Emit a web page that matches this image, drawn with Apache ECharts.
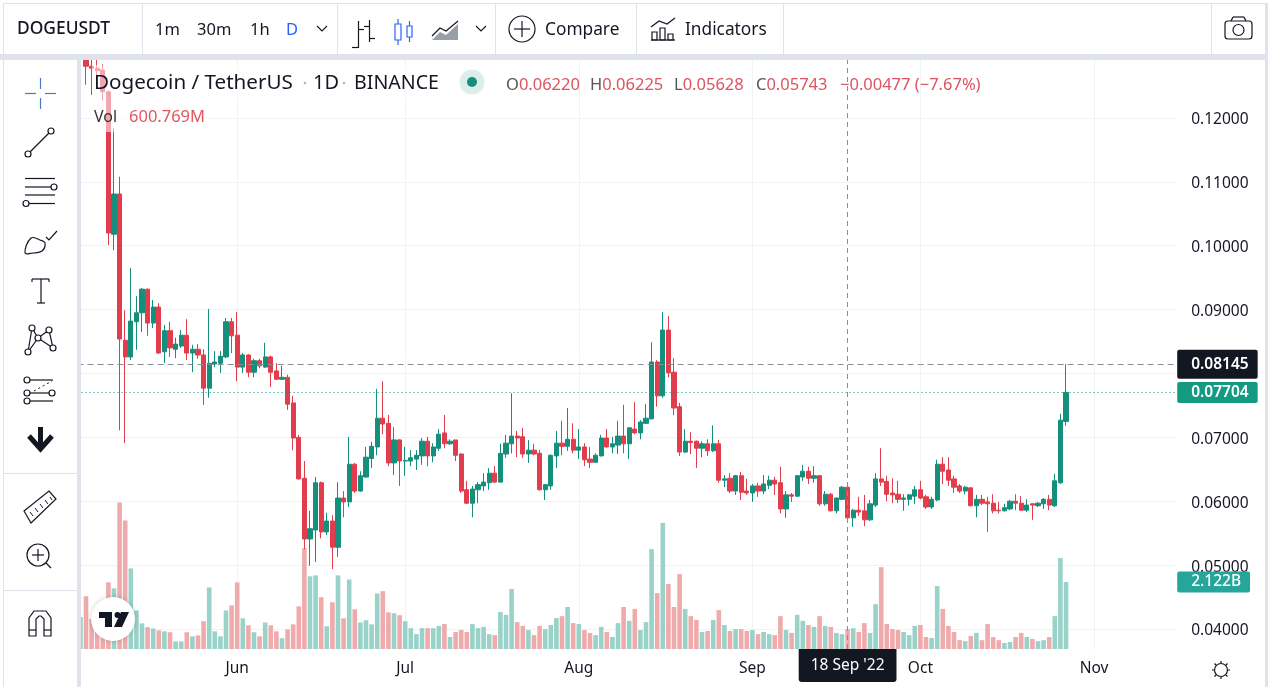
<!DOCTYPE html>
<html>
<head>
<meta charset="utf-8">
<title>DOGEUSDT</title>
<style>
html,body{margin:0;padding:0;background:#fff;overflow:hidden;}
#main{width:1275px;height:700px;}
</style>
<script src="https://cdn.jsdelivr.net/npm/echarts@6/dist/echarts.min.js"></script>
</head>
<body>
<div id="main"></div>
<script>
// daily candles from 5 May 2022
var opens = [.1300,.1281,.1278,.1275,.1241,.1018,.1081,.0852,.0826,.0881,
.0895,.0932,.0879,.0904,.0834,.0867,.0838,.0843,.0860,.0832,
.0838,.0829,.0777,.0815,.0816,.0826,.0881,.0860,.0810,.0829,
.0802,.0820,.0810,.0826,.0804,.0791,.0794,.0754,.0700,.0636,
.0541,.0555,.0629,.0552,.0569,.0528,.0605,.0599,.0658,.0616,
.0638,.0667,.0685,.0730,.0722,.0660,.0696,.0663,.0663,.0666,
.0671,.0694,.0671,.0683,.0707,.0690,.0696,.0674,.0618,.0597,
.0618,.0624,.0629,.0644,.0630,.0674,.0690,.0702,.0701,.0674,
.0680,.0675,.0618,.0624,.0671,.0691,.0686,.0697,.0680,.0685,
.0666,.0661,.0671,.0699,.0685,.0688,.0702,.0690,.0713,.0707,
.0722,.0729,.0818,.0765,.0868,.0802,.0748,.0677,.0694,.0694,
.0683,.0690,.0679,.0690,.0633,.0636,.0616,.0640,.0616,.0613,
.0624,.0616,.0625,.0633,.0629,.0588,.0610,.0608,.0638,.0647,
.0636,.0640,.0596,.0611,.0585,.0603,.0622,.0574,.0586,.0585,
.0571,.0594,.0635,.0631,.0613,.0611,.0603,.0603,.0608,.0618,
.0607,.0591,.0602,.0658,.0649,.0635,.0624,.0616,.0621,.0593,
.0603,.0599,.0597,.0586,.0585,.0588,.0600,.0597,.0586,.0596,
.0593,.0596,.0603,.0593,.0629,.0725];
var closes = [.1281,.1278,.1274,.1241,.1020,.1081,.0854,.0826,.0882,.0895,
.0932,.0879,.0904,.0832,.0867,.0840,.0846,.0860,.0832,.0838,
.0829,.0777,.0816,.0818,.0827,.0881,.0859,.0810,.0829,.0802,
.0820,.0812,.0826,.0802,.0791,.0794,.0752,.0699,.0635,.0541,
.0557,.0629,.0552,.0569,.0528,.0605,.0599,.0658,.0616,.0640,
.0669,.0686,.0730,.0721,.0660,.0696,.0663,.0664,.0668,.0672,
.0694,.0671,.0685,.0705,.0690,.0694,.0672,.0616,.0597,.0619,
.0626,.0630,.0644,.0630,.0675,.0691,.0702,.0699,.0674,.0680,
.0674,.0618,.0626,.0672,.0691,.0686,.0697,.0680,.0685,.0665,
.0661,.0672,.0699,.0685,.0690,.0702,.0690,.0715,.0707,.0724,
.0730,.0818,.0765,.0868,.0801,.0746,.0677,.0694,.0692,.0683,
.0690,.0679,.0690,.0633,.0635,.0616,.0640,.0614,.0613,.0624,
.0616,.0627,.0633,.0627,.0588,.0610,.0608,.0640,.0647,.0636,
.0640,.0596,.0611,.0585,.0605,.0622,.0574,.0586,.0583,.0571,
.0596,.0635,.0630,.0611,.0610,.0603,.0605,.0610,.0618,.0605,
.0591,.0603,.0658,.0647,.0633,.0622,.0616,.0622,.0593,.0603,
.0597,.0596,.0585,.0585,.0590,.0600,.0597,.0586,.0594,.0594,
.0597,.0603,.0594,.0632,.0727,.07704];
var highs = [.1310,.1300,.1295,.1284,.1243,.1184,.1108,.0899,.0965,.0921,
.0934,.0933,.0915,.0910,.0876,.0881,.0856,.0868,.0885,.0845,
.0846,.0838,.0901,.0835,.0835,.0887,.0887,.0896,.0832,.0830,
.0823,.0823,.0848,.0828,.0816,.0812,.0798,.0765,.0704,.0663,
.0585,.0638,.0631,.0582,.0578,.0630,.0616,.0701,.0660,.0647,
.0685,.0693,.0776,.0788,.0735,.0716,.0697,.0685,.0680,.0680,
.0699,.0701,.0691,.0713,.0735,.0697,.0696,.0675,.0632,.0624,
.0630,.0644,.0652,.0655,.0690,.0704,.0769,.0710,.0715,.0696,
.0690,.0680,.0627,.0673,.0710,.0726,.0746,.0722,.0713,.0691,
.0685,.0675,.0704,.0713,.0701,.0726,.0751,.0716,.0755,.0727,
.0752,.0849,.0821,.0896,.0890,.0824,.0754,.0713,.0708,.0695,
.0694,.0697,.0719,.0696,.0641,.0644,.0641,.0646,.0635,.0627,
.0629,.0641,.0640,.0638,.0654,.0616,.0613,.0641,.0657,.0654,
.0655,.0641,.0616,.0613,.0606,.0624,.0624,.0588,.0607,.0610,
.0602,.0644,.0683,.0640,.0636,.0632,.0611,.0611,.0624,.0632,
.0610,.0607,.0665,.0669,.0669,.0640,.0627,.0624,.0622,.0610,
.0610,.0607,.0611,.0599,.0596,.0602,.0611,.0608,.0603,.0597,
.0599,.0605,.0610,.0643,.0737,.08145];
var lows = [.1252,.1236,.1259,.1227,.1001,.0993,.0711,.0691,.0821,.0837,
.0865,.0859,.0871,.0831,.0816,.0826,.0824,.0840,.0821,.0802,
.0823,.0751,.0762,.0810,.0801,.0824,.0832,.0788,.0801,.0794,
.0794,.0808,.0809,.0779,.0790,.0790,.0743,.0680,.0634,.0525,
.0499,.0505,.0542,.0547,.0494,.0513,.0575,.0591,.0613,.0615,
.0637,.0652,.0672,.0705,.0655,.0641,.0624,.0640,.0655,.0649,
.0657,.0655,.0661,.0679,.0683,.0688,.0663,.0613,.0596,.0575,
.0597,.0616,.0618,.0629,.0629,.0668,.0675,.0669,.0668,.0660,
.0672,.0617,.0602,.0618,.0652,.0672,.0679,.0675,.0666,.0655,
.0652,.0660,.0670,.0684,.0675,.0674,.0675,.0666,.0705,.0697,
.0721,.0728,.0748,.0762,.0794,.0735,.0671,.0676,.0674,.0652,
.0669,.0671,.0677,.0629,.0622,.0613,.0610,.0602,.0610,.0599,
.0607,.0611,.0619,.0610,.0581,.0574,.0599,.0607,.0632,.0627,
.0629,.0593,.0593,.0584,.0581,.0602,.0568,.0560,.0577,.0561,
.0569,.0591,.0624,.0600,.0597,.0597,.0585,.0593,.0596,.0603,
.0588,.0588,.0600,.0627,.0624,.0613,.0613,.0611,.0592,.0575,
.0594,.0552,.0581,.0581,.0584,.0586,.0586,.0585,.0583,.0571,
.0591,.0588,.0586,.0591,.0627,.0718];
// volume in billions
var volumes = [1.67,.95,.96,1.33,2.11,1.92,4.64,4.07,2.55,1.22,
.81,.69,.65,.59,.56,.53,.24,.24,.53,.40,
.43,.88,1.95,.56,.40,1.22,1.38,2.11,.97,.75,
.53,.40,.84,.75,.56,.34,.62,.78,1.35,3.19,
2.30,2.33,1.64,.72,1.48,2.33,.97,2.20,1.26,.84,
.91,.78,1.76,1.83,1.16,1.13,1.07,.88,.66,.47,
.66,.66,.66,.73,.79,.38,.54,.60,.54,.79,
.66,.70,.47,.44,1.17,1.08,1.90,.85,.73,.60,
.44,.73,.63,.76,.98,1.04,1.33,.82,.79,.60,
.51,.44,.70,.54,.38,.82,1.33,.89,1.27,.60,
.85,3.16,1.77,3.99,2.06,1.33,2.37,1.27,1.04,.92,
.54,.57,.92,1.23,.76,.57,.63,.63,.57,.60,
.47,.54,.47,.44,1.04,.60,.51,1.08,.89,.76,
.70,1.04,.73,.70,.51,.47,.63,.66,.54,.82,
.51,1.42,2.59,.79,.63,.60,.54,.44,.73,.76,
.38,.35,1.99,1.27,.73,.54,.28,.25,.41,.51,
.28,.79,.38,.28,.19,.22,.38,.51,.38,.32,
.25,.28,.38,1.04,2.88,2.122];
var volumeBefore = 1.01; // 4 May bar, only a sliver shows at the left edge
var monthTicks = {'2022-06-01':'Jun','2022-07-01':'Jul','2022-08-01':'Aug','2022-09-01':'Sep','2022-10-01':'Oct','2022-11-01':'Nov'};
var hoverDate = '2022-09-18';
var hoverPrice = 0.08145;
var lastPrice = 0.07704;
var lastVolume = 2.122;

var FONT = '"Noto Sans", sans-serif';
var UP = '#148f7c', DOWN = '#e23d4c';
var UP_VOL = '#98d2c8', DOWN_VOL = '#efabab';
var INK = '#131722', LINE = '#e0e3eb';

// categories run on past the last candle up to the right edge of the plot
var categories = [];
var d0 = Date.UTC(2022, 4, 4);
for (var n = 0; n < 196; n++) {
    categories.push(new Date(d0 + n * 86400000).toISOString().slice(0, 10));
}
var candleData = [['-','-','-','-']];
var volumeData = [{value: volumeBefore, itemStyle: {color: UP_VOL}}];
for (var i = 0; i < opens.length; i++) {
    candleData.push([opens[i], closes[i], lows[i], highs[i]]);
    volumeData.push({value: volumes[i], itemStyle: {color: closes[i] >= opens[i] ? UP_VOL : DOWN_VOL}});
}

// page furniture, all plain graphic elements
var els = [];
function rect(x, y, w, h, fill, z, op) {
    els.push({type:'rect', silent:true, z:z||50, shape:{x:x,y:y,width:w,height:h}, style:{fill:fill, opacity:op==null?1:op}});
}
function ln(x1, y1, x2, y2, c, w, dash) {
    els.push({type:'line', silent:true, z:60, shape:{x1:x1,y1:y1,x2:x2,y2:y2}, style:{stroke:c||INK, lineWidth:w||1.2, lineDash:dash||null}});
}
function dot(x, y, r, fill, stroke, w) {
    els.push({type:'circle', silent:true, z:60, shape:{cx:x,cy:y,r:r}, style:{fill:fill||'#fff', stroke:stroke||null, lineWidth:w||1.2}});
}
function ring(x, y, r) { dot(x, y, r, '#fff', INK, 1.2); }
function poly(pts, fill, stroke, closed, w, smooth) {
    els.push({type: closed ? 'polygon' : 'polyline', silent:true, z:60, shape:{points:pts, smooth:smooth||0}, style:{fill:fill||null, stroke:stroke||null, lineWidth:w||1.2}});
}
function txt(x, y, s, size, color, weight) {
    els.push({type:'text', silent:true, z:70, x:x, y:y, style:{text:s, font:(weight||400)+' '+size+'px '+FONT, fill:color||INK, verticalAlign:'middle'}});
}

// frame: top bar, left bar, grey gaps
rect(0, 0, 1275, 54, '#fff');
rect(0, 54, 1275, 6, LINE);
rect(0, 60, 77, 640, '#fff');
rect(77, 60, 4, 640, LINE);
rect(3, 3, 1262, 1, LINE);
rect(3, 3, 1, 697, LINE);
rect(1265, 3, 3, 697, LINE);
rect(1268, 0, 7, 700, '#fff');
rect(3, 473, 74, 1, LINE);
rect(3, 590, 74, 1, LINE);
[142, 337, 495, 636, 783, 1211].forEach(function (x) { rect(x, 4, 1, 50, LINE); });

// top toolbar
txt(17, 29, 'DOGEUSDT', 17.4, INK, 500);
txt(155, 30, '1m', 16.5);
txt(197, 30, '30m', 16.5);
txt(250, 30, '1h', 16.5);
txt(286, 30, 'D', 16.5, '#2962ff');
poly([[317,26],[322,31],[327,26]], null, INK, false, 1.1);
ln(358.5, 21, 358.5, 48); ln(352, 47.5, 358, 47.5); ln(358, 29.5, 364, 29.5);
ln(369.5, 20, 369.5, 42); ln(364, 26.5, 369, 26.5); ln(370, 38.5, 375, 38.5);
els.push({type:'rect', silent:true, z:60, shape:{x:395,y:24,width:6,height:16}, style:{fill:'#fff',stroke:'#2962ff',lineWidth:1.2}});
els.push({type:'rect', silent:true, z:60, shape:{x:407,y:26,width:5,height:11}, style:{fill:'#fff',stroke:'#2962ff',lineWidth:1.2}});
ln(398, 19, 398, 24, '#2962ff'); ln(398, 40, 398, 45, '#2962ff'); ln(409.5, 21, 409.5, 26, '#2962ff'); ln(409.5, 37, 409.5, 42, '#2962ff');
poly([[432,40],[440,32],[446,35],[458,24],[458,40]], '#9a9ea6', null, true);
poly([[432,36],[440,28],[446,31],[458,21]], null, INK, false, 1.2);
poly([[476,26],[481,31],[486,26]], null, INK, false, 1.1);
dot(522, 29, 13, '#fff', INK, 1.2);
ln(522, 21, 522, 37); ln(514, 29, 530, 29);
txt(545, 30, 'Compare', 17.3);
ln(651, 40, 675, 40);
poly([[652,40],[652,32],[657,32],[657,40]], null, INK, true);
poly([[660,40],[660,28],[665,28],[665,40]], null, INK, true);
poly([[668,40],[668,34],[673,34],[673,40]], null, INK, true);
poly([[651,27],[659,21],[667,24],[675,18]], null, INK, false);
txt(685, 30, 'Indicators', 17.3);
// camera
els.push({type:'rect', silent:true, z:60, shape:{x:1225,y:21,width:27,height:18,r:3}, style:{fill:'#fff',stroke:INK,lineWidth:1.2}});
ln(1231, 21, 1233, 17); ln(1233, 17, 1244, 17); ln(1244, 17, 1246, 21);
dot(1238.5, 30, 5.5, '#fff', INK, 1.2);

// left toolbar icons
var BLUE = '#4a78c2';
ln(25, 93.5, 36, 93.5, BLUE); ln(45, 93.5, 56, 93.5, BLUE); ln(40.5, 78, 40.5, 89, BLUE); ln(40.5, 98, 40.5, 109, BLUE);
ln(30, 152, 49, 133); ring(28, 154, 3); ring(51, 131, 3);
ln(25, 178.5, 55, 178.5); ln(25, 187, 51, 187); ln(25, 195, 55, 195); ln(29, 203.5, 55, 203.5); ring(54, 187, 3); ring(26, 203.5, 3);
poly([[25,253],[31,238],[40,240],[45,243],[42,251],[33,253]], null, INK, true, 1.2, 0.4);
poly([[46,237],[49,240],[57,231]], null, INK, false);
ln(32, 279, 49, 279); ln(41, 279, 41, 303); ln(37, 303, 45, 303); ln(32, 279, 32, 282); ln(49, 279, 49, 282);
poly([[32,328],[28,352],[38,338],[32,328]], null, INK, false);
poly([[38,338],[49,330],[53,348],[38,338]], null, INK, false);
ring(32, 328, 3); ring(49, 330, 3); ring(38, 338, 3); ring(28, 352, 3); ring(53, 348, 3);
ln(30, 380, 53, 380); ln(30, 393, 49, 393); ln(30, 401, 53, 401); ln(34, 391, 52, 381, INK, 1, [2, 3]);
ring(27, 380, 3); ring(27, 393, 3); ring(27, 401, 3); ring(52, 393, 3);
ln(40.5, 427, 40.5, 448, INK, 5);
poly([[29,436],[40.5,449],[52,436]], null, INK, false, 5);
poly([[24,511],[49,491],[56,499],[31,523]], null, INK, true);
[[30,512,33,516],[35,508,38,512],[40,504,43,508],[45,500,48,504],[50,497,52,500]].forEach(function (t) { ln(t[0], t[1], t[2], t[3], INK, 1); });
dot(38, 555, 11, '#fff', INK, 1.2);
ln(38, 549, 38, 561); ln(32, 555, 44, 555); ln(46, 563, 51, 568);
poly([[29,636],[29,618],[34,611],[46,611],[51,618],[51,636],[44,636],[44,619],[41,616],[39,616],[36,619],[36,636]], null, INK, true, 1.2);
ln(29, 630, 36, 630); ln(44, 630, 51, 630);

// TV badge
els.push({type:'circle', silent:true, z:60, shape:{cx:113,cy:619,r:22}, style:{fill:'#fff', shadowBlur:5, shadowColor:'rgba(0,0,0,0.2)'}});
poly([[99,612],[112,612],[112,627],[105,627],[105,618],[99,618]], INK, null, true);
dot(117.5, 615, 3, INK);
poly([[129,612],[122,627],[114,627],[121,612]], INK, null, true);

// sun at the bottom right
dot(1221, 670, 6.5, '#fff', INK, 1.2);
[[0,-9,0,-7],[0,9,0,7],[-9,0,-7,0],[9,0,7,0],[-6.5,-6.5,-5,-5],[6.5,-6.5,5,-5],[-6.5,6.5,-5,5],[6.5,6.5,5,5]].forEach(function (s) {
    ln(1221+s[0], 670+s[1], 1221+s[2], 670+s[3]);
});

// legend, faded candles behind it
rect(92, 65, 348, 32, '#fff', 40, 0.55);
rect(92, 97, 116, 35, '#fff', 40, 0.55);
txt(94, 83.5, 'Dogecoin / TetherUS', 20.6);
dot(305, 83, 1.3, '#b2b5be');
txt(313, 83.5, '1D', 20);
dot(344, 83, 1.3, '#b2b5be');
txt(354, 83.5, 'BINANCE', 19.6);
dot(472, 82, 12.5, 'rgba(20,143,124,0.15)');
dot(472, 82, 5, UP);
// OHLC row as separate pieces so each one sits where it does in the original
[[506,'O','0.06220'],[590,'H','0.06225'],[674,'L','0.05628'],[756,'C','0.05743']].forEach(function (p) {
    els.push({type:'text', silent:true, z:70, x:p[0], y:85, style:{
        text:'{g|'+p[1]+'}{r|'+p[2]+'}', verticalAlign:'middle',
        rich:{g:{fontSize:16.5, fontFamily:'Noto Sans', fill:'#555'}, r:{fontSize:16.5, fontFamily:'Noto Sans', fill:'#dc5460'}}
    }});
});
txt(840, 85, '\u22120.00477 (\u22127.67%)', 16.5, '#dc5460');
txt(94, 117, 'Vol', 16, '#333');
txt(129, 117, '600.769M', 16.5, '#e0575f');

var chart = echarts.init(document.getElementById('main'), null, {renderer:'canvas'});
var option = {
    animation: false,
    backgroundColor: '#fff',
    grid: [
        {left: 77.6, width: 1097.6, top: 54.1, height: 638.8},
        {left: 77.6, width: 1097.6, top: 60, height: 589}
    ],
    xAxis: [
        {type:'category', gridIndex:0, data:categories, show:false},
        {type:'category', gridIndex:1, data:categories,
         axisLine:{show:false}, axisTick:{show:false},
         axisLabel:{
            margin: 12, fontFamily:'Noto Sans', fontSize:15.5, color:INK, hideOverlap:false,
            interval:function (index, value) { return !!monthTicks[value]; },
            formatter:function (value) { return monthTicks[value] || ''; }
         },
         splitLine:{show:true, alignWithLabel:true, lineStyle:{color:'#f0f3f6', width:1},
            interval:function (index, value) { return !!monthTicks[value]; }}
        }
    ],
    yAxis: [
        {type:'value', gridIndex:0, position:'right', min:0.03, max:0.13, interval:0.01,
         axisLine:{show:false}, axisTick:{show:false},
         axisLabel:{
            margin:16,
            showMinLabel:false, showMaxLabel:false,
            // rich block so the 2px nudge down actually takes
            rich:{p:{fontFamily:'Noto Sans', fontSize:15.5, color:INK, padding:[4,0,0,0]}},
            formatter:function (v) {
                // 0.08 sits behind the two price tags in the original
                if (v.toFixed(2) == '0.08') return '';
                return '{p|' + v.toFixed(5) + '}';
            }
         },
         splitLine:{show:true, lineStyle:{color:'#f0f3f6', width:1}}
        },
        {type:'value', gridIndex:1, min:0, max:18.64, show:false, splitLine:{show:false}}
    ],
    series: [
        {
            name:'Volume', type:'bar', xAxisIndex:1, yAxisIndex:1, z:1,
            data:volumeData, barWidth:4.6, silent:true,
            markLine:{
                silent:true, symbol:'none', animation:false, precision:5,
                data:[
                    {xAxis:hoverDate,
                     lineStyle:{color:'#8a8d94', type:[5,4], width:1},
                     label:{show:true, position:'start', distance:0, formatter:"18 Sep '22", backgroundColor:INK, color:'#fff',
                        fontFamily:'Noto Sans', fontSize:15.5, padding:[9,12,8,12], borderRadius:[0,0,3,3]}},
                    {yAxis:lastVolume,
                     lineStyle:{color:'rgba(0,0,0,0)', width:0},
                     label:{show:true, position:'end', distance:2, formatter:'2.122B', backgroundColor:'#26a69a', color:'#fff',
                        fontFamily:'Noto Sans', fontWeight:500, fontSize:15.5, padding:[3,9,2,14], borderRadius:2}}
                ]
            }
        },
        {
            name:'DOGEUSDT', type:'candlestick', xAxisIndex:0, yAxisIndex:0, z:3,
            data:candleData, barWidth:4.6, silent:true,
            itemStyle:{color:UP, color0:DOWN, borderColor:UP, borderColor0:DOWN, borderWidth:1},
            markLine:{
                silent:true, symbol:'none', animation:false, precision:5,
                data:[
                    {yAxis:hoverPrice,
                     lineStyle:{color:'#8a8d94', type:[6,4], width:1},
                     label:{show:true, position:'end', distance:2, formatter:'0.08145', backgroundColor:INK, color:'#fff',
                        fontFamily:'Noto Sans', fontWeight:600, fontSize:15.5, padding:[7,9,6,14], borderRadius:2}},
                    {yAxis:lastPrice,
                     lineStyle:{color:'#148f7c', type:[1,3], width:1},
                     label:{show:true, position:'end', distance:2, formatter:'0.07704', backgroundColor:'#149a80', color:'#fff',
                        fontFamily:'Noto Sans', fontWeight:600, fontSize:15.5, padding:[3,9,2,14], borderRadius:2}}
                ]
            }
        }
    ],
    graphic: {elements: els}
};
chart.setOption(option);
</script>
</body>
</html>
